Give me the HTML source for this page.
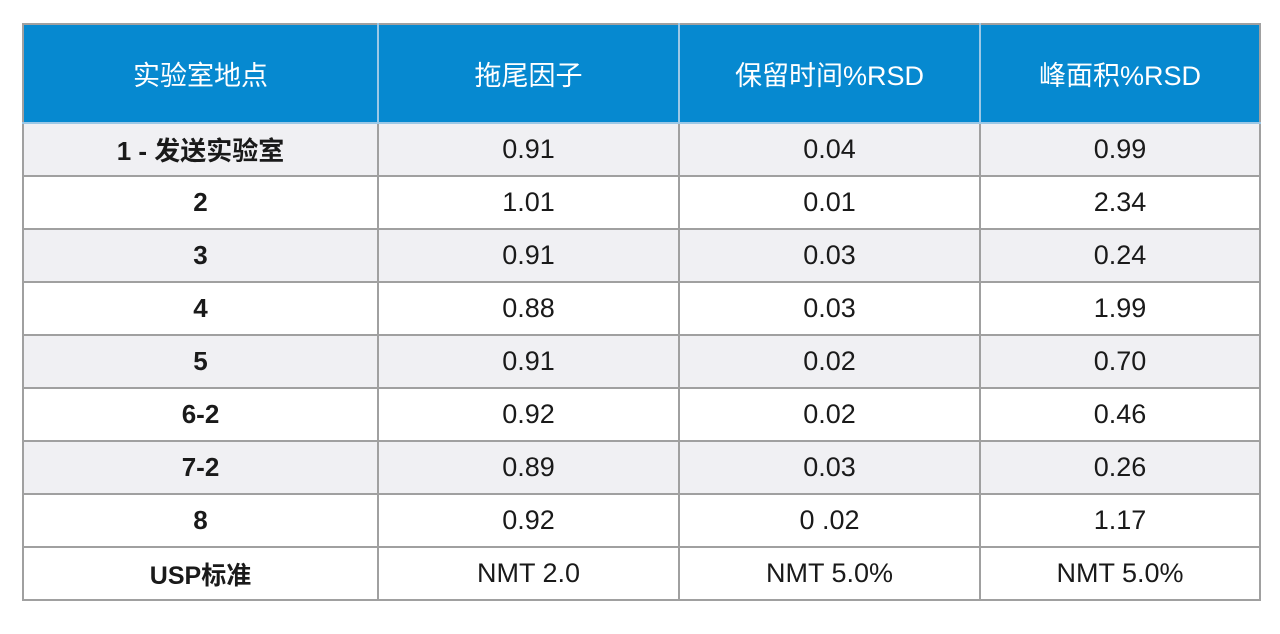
<!DOCTYPE html>
<html><head><meta charset="utf-8"><style>
body{margin:0;width:1280px;height:634px;background:#fff;overflow:hidden;font-family:"Liberation Sans","Noto Sans CJK SC",sans-serif;}
table{position:absolute;left:22px;top:23px;border-collapse:collapse;table-layout:fixed;width:1237px;}
td,th{border:2px solid #a0a0a0;text-align:center;padding:0;color:#1a1a1a;font-size:27px;}
th{background:#0689d0;color:#fff;font-weight:normal;height:97px;border-color:#9cc8e6;border-top-color:#a0a0a0;}
th:first-child{border-left-color:#a0a0a0}th:last-child{border-right-color:#a0a0a0}
td{height:51px;}
tr.g td{background:#f0f0f3;}
td.l{font-weight:bold;font-size:26px;}
</style></head><body>
<table>
<colgroup><col style="width:355px"><col style="width:301px"><col style="width:301px"><col style="width:280px"></colgroup>
<tr><th>实验室地点</th><th>拖尾因子</th><th>保留时间%RSD</th><th>峰面积%RSD</th></tr>
<tr class="g"><td class="l">1 - 发送实验室</td><td>0.91</td><td>0.04</td><td>0.99</td></tr>
<tr><td class="l">2</td><td>1.01</td><td>0.01</td><td>2.34</td></tr>
<tr class="g"><td class="l">3</td><td>0.91</td><td>0.03</td><td>0.24</td></tr>
<tr><td class="l">4</td><td>0.88</td><td>0.03</td><td>1.99</td></tr>
<tr class="g"><td class="l">5</td><td>0.91</td><td>0.02</td><td>0.70</td></tr>
<tr><td class="l">6-2</td><td>0.92</td><td>0.02</td><td>0.46</td></tr>
<tr class="g"><td class="l">7-2</td><td>0.89</td><td>0.03</td><td>0.26</td></tr>
<tr><td class="l">8</td><td>0.92</td><td>0 .02</td><td>1.17</td></tr>
<tr><td class="l" style="font-size:25px">USP标准</td><td>NMT 2.0</td><td>NMT 5.0%</td><td>NMT 5.0%</td></tr>
</table>
</body></html>
